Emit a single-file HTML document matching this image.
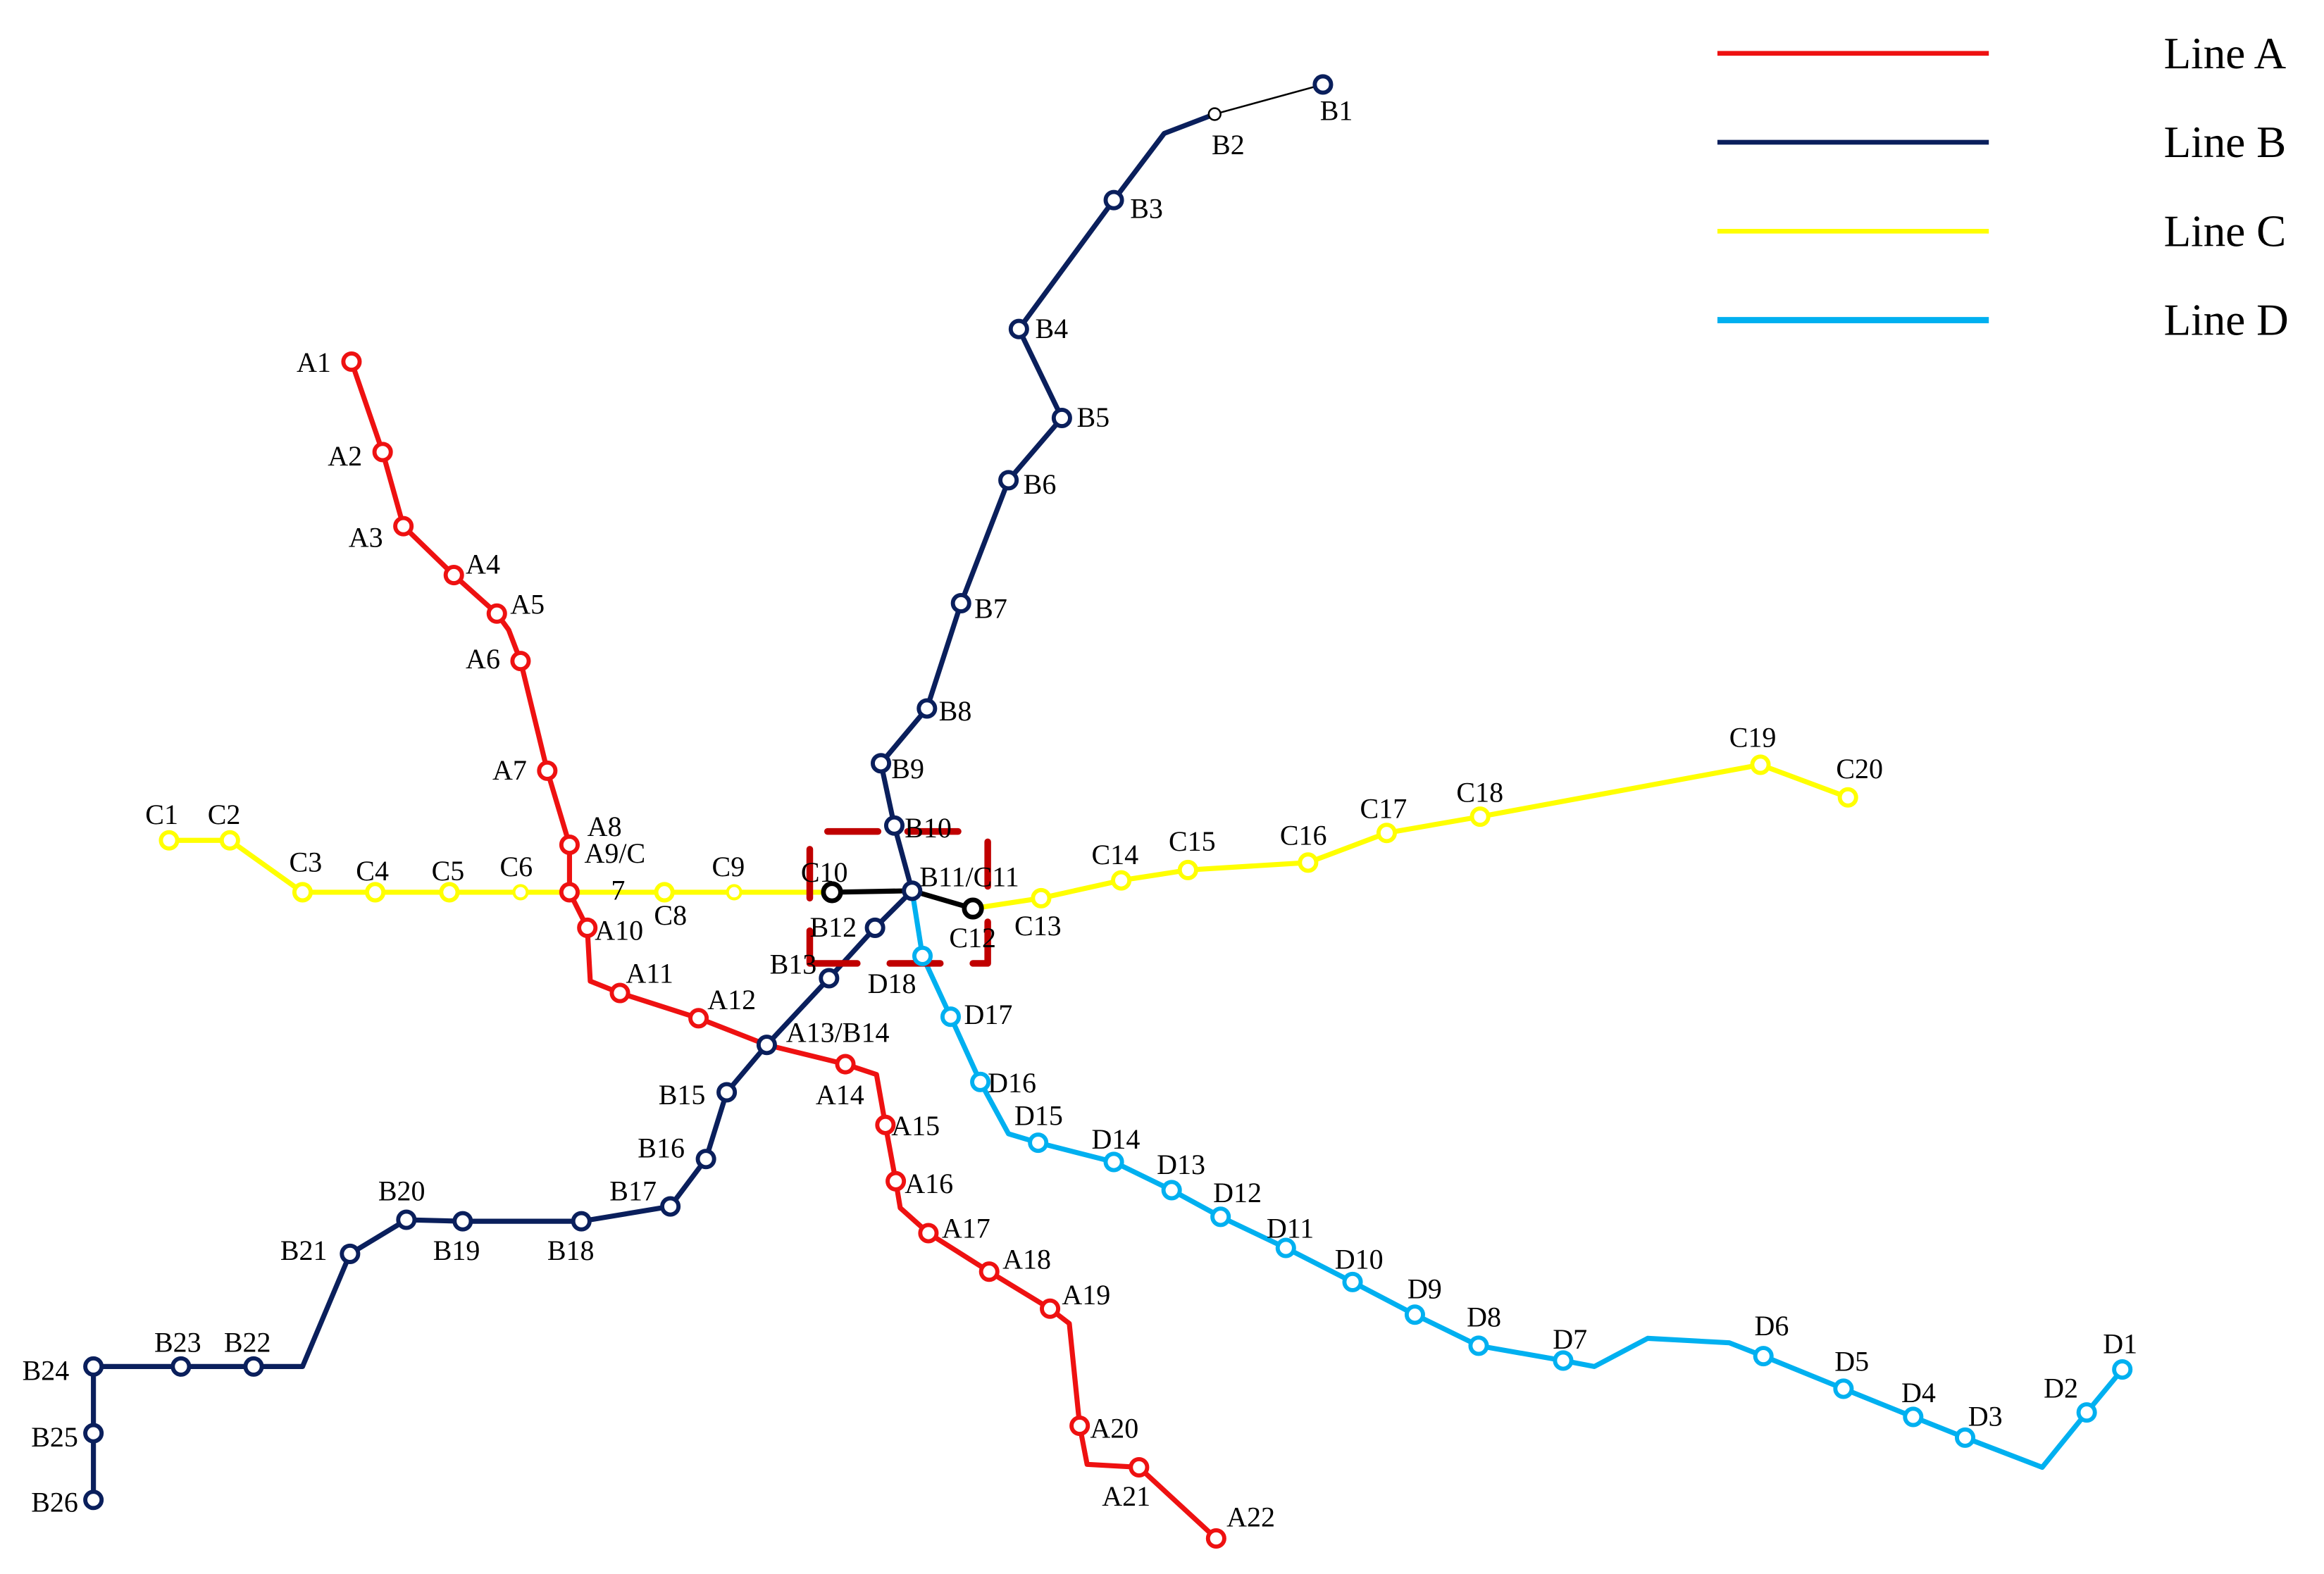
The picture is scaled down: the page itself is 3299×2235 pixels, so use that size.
<!DOCTYPE html>
<html><head><meta charset="utf-8"><style>html,body{margin:0;padding:0;background:#fff}svg{display:block}</style></head>
<body>
<svg width="3299" height="2235" viewBox="0 0 1567 1062" preserveAspectRatio="none" xmlns="http://www.w3.org/2000/svg" font-family="Liberation Serif, serif">
<rect width="1567" height="1062" fill="#fff"/>
<g fill="none" stroke-linejoin="round" stroke-linecap="round">
<polyline stroke="#ee1111" stroke-width="3.4" points="237,244 258,305 272,355 306,388 335,414 343,425 351,446 369,520 384,570 384,602 396,626 398,662 418,670 471,687 517,705 570,718 591,725 597,759 604,797 607,815 626,832 667,858 708,883 721,893 728,962 733,988 768,990 820,1038"/>
<line x1="892" y1="57" x2="819" y2="77" stroke="#000" stroke-width="1.2"/>
<polyline stroke="#0a1f5c" stroke-width="3.4" points="819,77 785,90 751,135 687,222 716,282 680,324 648,407 625,478 594,515 603,557 615,601 590,626 559,660 517,705 490,737 476,782 452,814 392,824 312,824 274,823 236,846 204,922 171,922 122,922 63,922 63,967 63,1012"/>
<polyline stroke="#ffff00" stroke-width="3.4" points="114,567 155,567 204,602 253,602 303,602 351,602 384,602 448,602 495,602 561,602"/>
<polyline stroke="#000" stroke-width="3.4" points="561,602 615,601 656,613"/>
<polyline stroke="#ffff00" stroke-width="3.4" points="656,613 702,606 756,594 801,587 882,582 935,562 998,551 1187,516 1246,538"/>
<polyline stroke="#00b0f0" stroke-width="3.4" points="615,601 622,645 641,686 661,730 680,765 700,771 751,784 790,803 823,821 867,842 912,865 954,887 997,908 1054,918 1075,922 1111,903 1166,906 1189,915 1243,937 1290,956 1325,970 1377,990 1407,953 1431,924"/>
<g stroke="#c00000" stroke-width="4.5" stroke-linecap="round">
<line x1="558" y1="561" x2="592" y2="561"/><line x1="612" y1="561" x2="646" y2="561"/>
<line x1="546" y1="573" x2="546" y2="606"/><line x1="666" y1="568" x2="666" y2="598"/>
<polyline points="546,628 546,650 578,650"/><line x1="600" y1="650" x2="634" y2="650"/>
<polyline points="656,650 666,650 666,622"/>
</g>
</g>
<g stroke-width="2.8" fill="#fff">
<g stroke="#ee1111">
<circle cx="237" cy="244" r="5.5"/><circle cx="258" cy="305" r="5.5"/><circle cx="272" cy="355" r="5.5"/><circle cx="306" cy="388" r="5.5"/><circle cx="335" cy="414" r="5.5"/><circle cx="351" cy="446" r="5.5"/><circle cx="369" cy="520" r="5.5"/><circle cx="384" cy="570" r="5.5"/><circle cx="384" cy="602" r="5.5"/><circle cx="396" cy="626" r="5.5"/><circle cx="418" cy="670" r="5.5"/><circle cx="471" cy="687" r="5.5"/><circle cx="570" cy="718" r="5.5"/><circle cx="597" cy="759" r="5.5"/><circle cx="604" cy="797" r="5.5"/><circle cx="626" cy="832" r="5.5"/><circle cx="667" cy="858" r="5.5"/><circle cx="708" cy="883" r="5.5"/><circle cx="728" cy="962" r="5.5"/><circle cx="768" cy="990" r="5.5"/><circle cx="820" cy="1038" r="5.5"/>
</g>
<g stroke="#0a1f5c">
<circle cx="892" cy="57" r="5.5"/><circle cx="751" cy="135" r="5.5"/><circle cx="687" cy="222" r="5.5"/><circle cx="716" cy="282" r="5.5"/><circle cx="680" cy="324" r="5.5"/><circle cx="648" cy="407" r="5.5"/><circle cx="625" cy="478" r="5.5"/><circle cx="594" cy="515" r="5.5"/><circle cx="603" cy="557" r="5.5"/><circle cx="615" cy="601" r="5.5"/><circle cx="590" cy="626" r="5.5"/><circle cx="559" cy="660" r="5.5"/><circle cx="517" cy="705" r="5.5"/><circle cx="490" cy="737" r="5.5"/><circle cx="476" cy="782" r="5.5"/><circle cx="452" cy="814" r="5.5"/><circle cx="392" cy="824" r="5.5"/><circle cx="312" cy="824" r="5.5"/><circle cx="274" cy="823" r="5.5"/><circle cx="236" cy="846" r="5.5"/><circle cx="171" cy="922" r="5.5"/><circle cx="122" cy="922" r="5.5"/><circle cx="63" cy="922" r="5.5"/><circle cx="63" cy="967" r="5.5"/><circle cx="63" cy="1012" r="5.5"/>
</g>
<circle cx="819" cy="77" r="4" stroke="#000" stroke-width="1.2"/>
<g stroke="#ffff00">
<circle cx="114" cy="567" r="5.5"/><circle cx="155" cy="567" r="5.5"/><circle cx="204" cy="602" r="5.5"/><circle cx="253" cy="602" r="5.5"/><circle cx="303" cy="602" r="5.5"/><circle cx="351" cy="602" r="4.5" stroke-width="2"/><circle cx="448" cy="602" r="5.5"/><circle cx="495" cy="602" r="4.5" stroke-width="2"/><circle cx="702" cy="606" r="5.5"/><circle cx="756" cy="594" r="5.5"/><circle cx="801" cy="587" r="5.5"/><circle cx="882" cy="582" r="5.5"/><circle cx="935" cy="562" r="5.5"/><circle cx="998" cy="551" r="5.5"/><circle cx="1187" cy="516" r="5.5"/><circle cx="1246" cy="538" r="5.5"/>
</g>
<g stroke="#000" stroke-width="3.2"><circle cx="561" cy="602" r="5.8"/><circle cx="656" cy="613" r="5.8"/></g>
<g stroke="#00b0f0">
<circle cx="622" cy="645" r="5.5"/><circle cx="641" cy="686" r="5.5"/><circle cx="661" cy="730" r="5.5"/><circle cx="700" cy="771" r="5.5"/><circle cx="751" cy="784" r="5.5"/><circle cx="790" cy="803" r="5.5"/><circle cx="823" cy="821" r="5.5"/><circle cx="867" cy="842" r="5.5"/><circle cx="912" cy="865" r="5.5"/><circle cx="954" cy="887" r="5.5"/><circle cx="997" cy="908" r="5.5"/><circle cx="1054" cy="918" r="5.5"/><circle cx="1189" cy="915" r="5.5"/><circle cx="1243" cy="937" r="5.5"/><circle cx="1290" cy="956" r="5.5"/><circle cx="1325" cy="970" r="5.5"/><circle cx="1407" cy="953" r="5.5"/><circle cx="1431" cy="924" r="5.5"/>
</g>
</g>
<g font-size="19" fill="#000">
<text x="200" y="251">A1</text><text x="221" y="314">A2</text><text x="235" y="369">A3</text><text x="314" y="387">A4</text><text x="344" y="414">A5</text><text x="314" y="451">A6</text><text x="332" y="526">A7</text><text x="396" y="564">A8</text><text x="394" y="582">A9/C</text><text x="412" y="607">7</text><text x="401" y="634">A10</text><text x="422" y="663">A11</text><text x="477" y="681">A12</text><text x="530" y="703">A13/B14</text><text x="550" y="745">A14</text><text x="601" y="766">A15</text><text x="610" y="805">A16</text><text x="635" y="835">A17</text><text x="676" y="856">A18</text><text x="716" y="880">A19</text><text x="735" y="970">A20</text><text x="743" y="1016">A21</text><text x="827" y="1030">A22</text>
<text x="890" y="81">B1</text><text x="817" y="104">B2</text><text x="762" y="147">B3</text><text x="698" y="228">B4</text><text x="726" y="288">B5</text><text x="690" y="333">B6</text><text x="657" y="417">B7</text><text x="633" y="486">B8</text><text x="601" y="525">B9</text><text x="610" y="565">B10</text><text x="620" y="598">B11/C11</text><text x="546" y="632">B12</text><text x="519" y="657">B13</text><text x="444" y="745">B15</text><text x="430" y="781">B16</text><text x="411" y="810">B17</text><text x="369" y="850">B18</text><text x="292" y="850">B19</text><text x="255" y="810">B20</text><text x="189" y="850">B21</text><text x="151" y="912">B22</text><text x="104" y="912">B23</text><text x="15" y="931">B24</text><text x="21" y="976">B25</text><text x="21" y="1020">B26</text>
<text x="98" y="556">C1</text><text x="140" y="556">C2</text><text x="195" y="588">C3</text><text x="240" y="594">C4</text><text x="291" y="594">C5</text><text x="337" y="591">C6</text><text x="441" y="624">C8</text><text x="480" y="591">C9</text><text x="540" y="595">C10</text><text x="640" y="639">C12</text><text x="684" y="631">C13</text><text x="736" y="583">C14</text><text x="788" y="574">C15</text><text x="863" y="570">C16</text><text x="917" y="552">C17</text><text x="982" y="541">C18</text><text x="1166" y="504">C19</text><text x="1238" y="525">C20</text>
<text x="1418" y="913">D1</text><text x="1378" y="943">D2</text><text x="1327" y="962">D3</text><text x="1282" y="946">D4</text><text x="1237" y="925">D5</text><text x="1183" y="901">D6</text><text x="1047" y="910">D7</text><text x="989" y="895">D8</text><text x="949" y="876">D9</text><text x="900" y="856">D10</text><text x="854" y="835">D11</text><text x="818" y="811">D12</text><text x="780" y="792">D13</text><text x="736" y="775">D14</text><text x="684" y="759">D15</text><text x="666" y="737">D16</text><text x="650" y="691">D17</text><text x="585" y="670">D18</text>
</g>
<g stroke-width="3.2">
<line x1="1158" y1="36" x2="1341" y2="36" stroke="#ee1111"/>
<line x1="1158" y1="96" x2="1341" y2="96" stroke="#0a1f5c"/>
<line x1="1158" y1="156" x2="1341" y2="156" stroke="#ffff00"/>
<line x1="1158" y1="216" x2="1341" y2="216" stroke="#00b0f0" stroke-width="4.2"/>
</g>
<g font-size="30" fill="#000">
<text x="1459" y="46">Line A</text><text x="1459" y="106">Line B</text><text x="1459" y="166">Line C</text><text x="1459" y="226">Line D</text>
</g>
</svg>
</body></html>
